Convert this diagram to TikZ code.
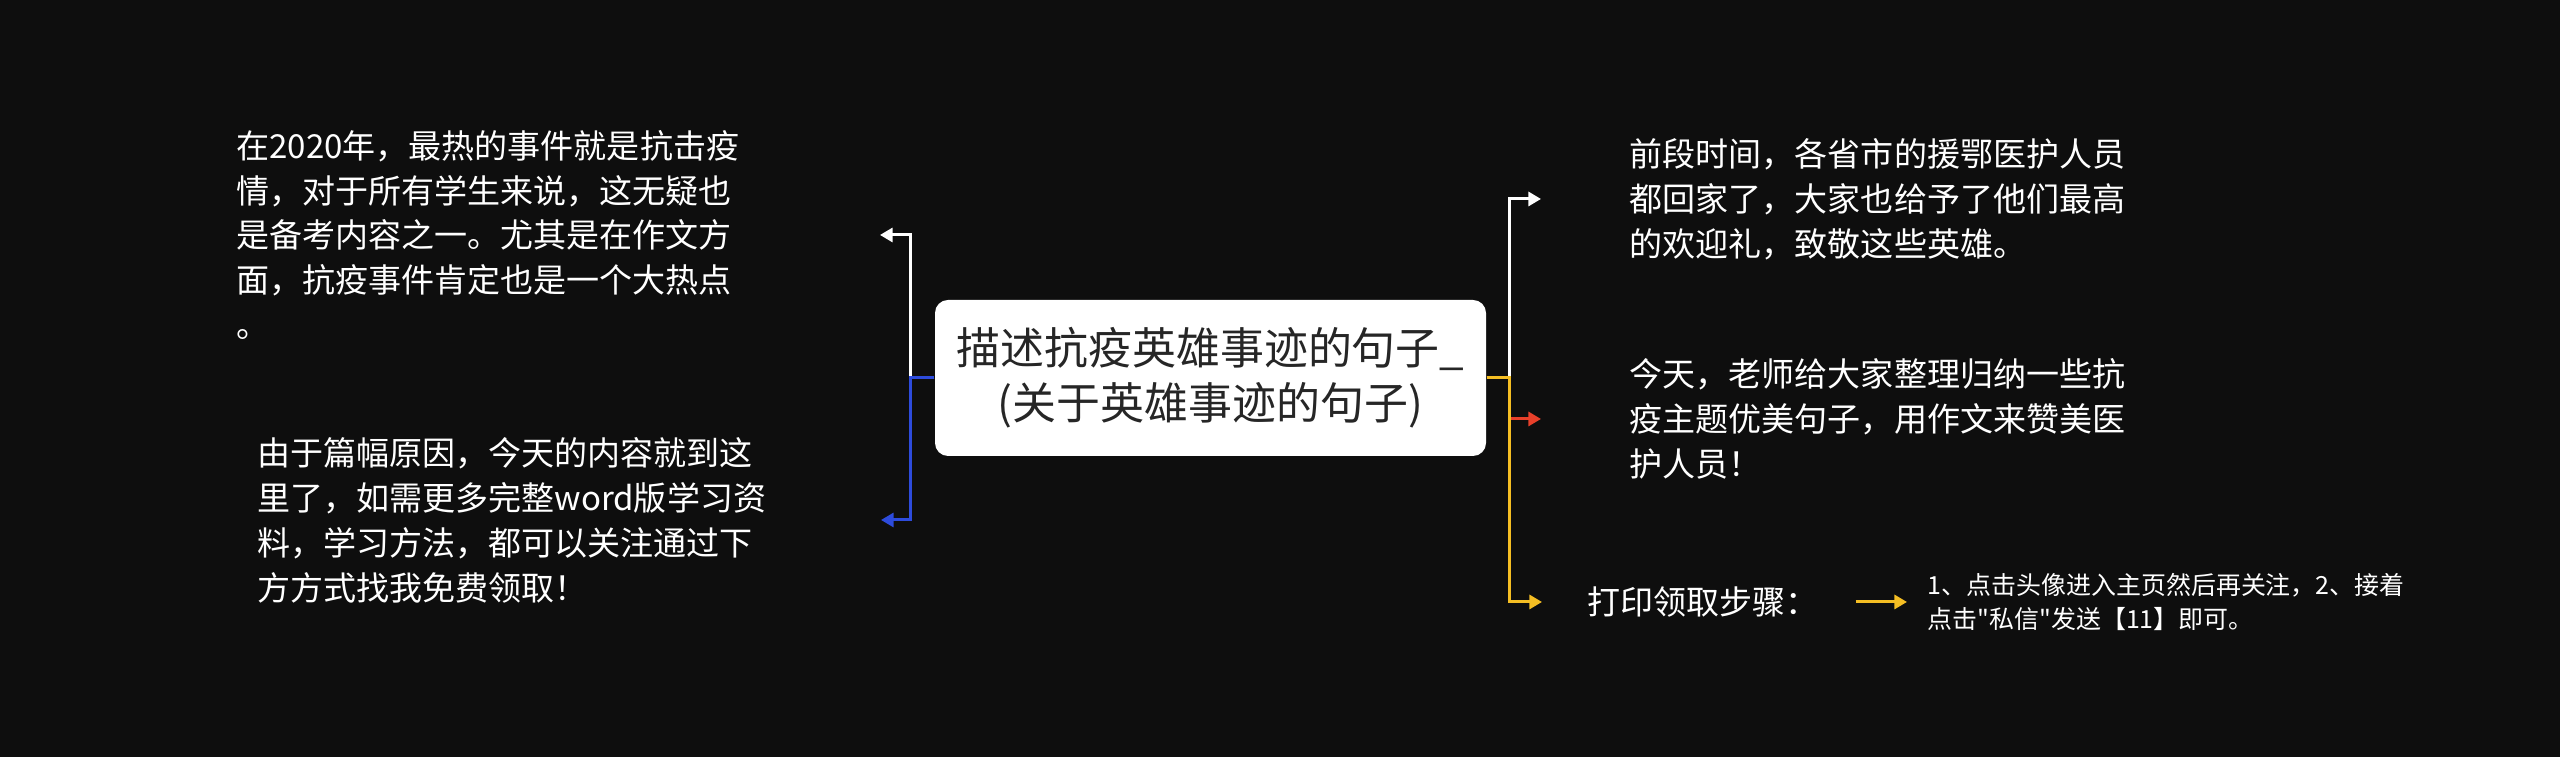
\documentclass[tikz,border=0pt]{standalone}
\usepackage{fontspec}
\setmainfont{Noto Sans CJK SC}
\usepackage{xcolor}
\usepackage{tikz}
\usetikzlibrary{arrows.meta, positioning}
\definecolor{bgdark}{RGB}{14,14,14}
\definecolor{hubink}{RGB}{38,38,38}
\definecolor{linkblue}{RGB}{45,75,220}
\definecolor{linkred}{RGB}{232,64,42}
\definecolor{linkgold}{RGB}{245,190,35}

\tikzset{
  hub/.style={fill=white, text=hubink, rounded corners=0.13cm, align=center,
    minimum width=5.51cm, minimum height=1.56cm,
    font=\fontsize{12.5}{15.6}\selectfont},
  leaf/.style={text=white, align=left, inner sep=0pt,
    font=\fontsize{9.4}{12.8}\selectfont},
  wire/.style={line width=0.85pt, -{Triangle[length=3.6pt,width=4pt]}},
}

\begin{document}
\begin{tikzpicture}
    % canvas
    \fill[bgdark] (0,0) rectangle (25.6,7.57);
    \useasboundingbox (0,0) rectangle (25.6,7.57);
    % central topic
    \node[hub] (hub) at (12.105,3.79) {描述抗疫英雄事迹的句子\_\\(关于英雄事迹的句子)};
    % left leaves
    \node[leaf, text width=6.43cm, anchor=east] (intro) at (8.80,5.22)
      {在2020年，最热的事件就是抗击疫\\情，对于所有学生来说，这无疑也\\是备考内容之一。尤其是在作文方\\面，抗疫事件肯定也是一个大热点\\。};
    \node[leaf, text width=6.23cm, anchor=east] (outro) at (8.81,2.37)
      {由于篇幅原因，今天的内容就到这\\里了，如需更多完整word版学习资\\料，学习方法，都可以关注通过下\\方方式找我免费领取！};
    % right leaves
    \node[leaf, anchor=west] (heroes) at (16.29,5.58)
      {前段时间，各省市的援鄂医护人员\\都回家了，大家也给予了他们最高\\的欢迎礼，致敬这些英雄。};
    \node[leaf, anchor=west] (praise) at (16.29,3.38)
      {今天，老师给大家整理归纳一些抗\\疫主题优美句子，用作文来赞美医\\护人员！};
    \node[leaf, anchor=west] (steps) at (15.87,1.55) {打印领取步骤：};
    \node[leaf, anchor=west, font=\fontsize{7.1}{9.7}\selectfont] (howto) at (19.27,1.55)
      {1、点击头像进入主页然后再关注，2、接着\\点击\textquotedbl 私信\textquotedbl 发送【11】即可。};
    % connectors, left
    \draw[wire, white] (hub.west) -- ++(-0.24,0) |- (intro);
    \draw[wire, linkblue] (hub.west) -- ++(-0.24,0) |- (outro);
    % connectors, right
    \draw[wire, white, shorten >=0.88cm] (hub.east) -- ++(0.23,0) |- (heroes);
    \draw[wire, linkred, shorten >=0.88cm] (hub.east) -- ++(0.23,0) |- (praise);
    \draw[wire, linkgold, shorten >=0.45cm] (hub.east) -- ++(0.23,0) |- (steps);
    \draw[wire, linkgold, shorten <=0.36cm, shorten >=0.2cm] (steps) -- (howto);
\end{tikzpicture}
\end{document}
